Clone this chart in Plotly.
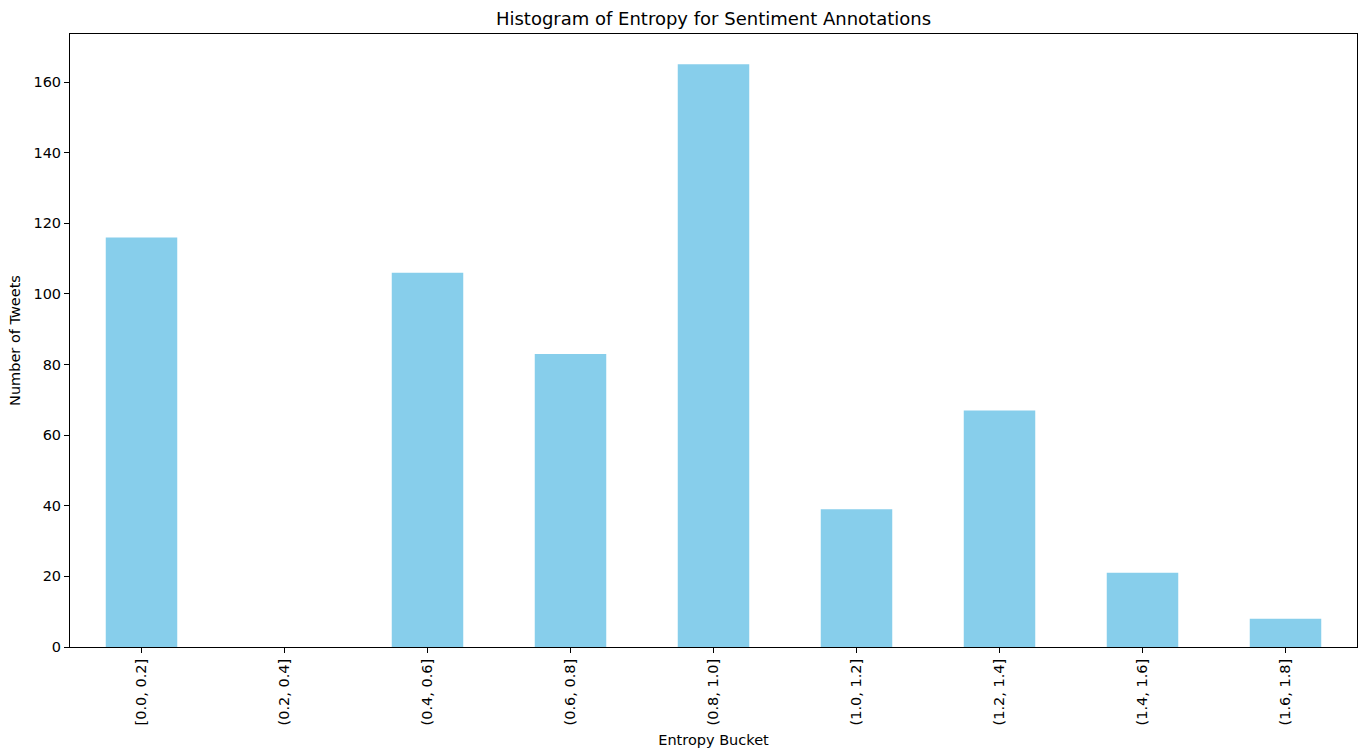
import plotly.graph_objects as go

categories = ["[0.0, 0.2]", "(0.2, 0.4]", "(0.4, 0.6]", "(0.6, 0.8]", "(0.8, 1.0]",
              "(1.0, 1.2]", "(1.2, 1.4]", "(1.4, 1.6]", "(1.6, 1.8]"]
counts = [116, 0, 106, 83, 165, 39, 67, 21, 8]
y_ticks = [0, 20, 40, 60, 80, 100, 120, 140, 160]

fig = go.Figure(go.Bar(x=categories, y=counts, marker_color="#87CEEB",
                       marker_line_width=0, width=0.5))

font = "DejaVu Sans, sans-serif"
fig.update_layout(
    width=1362, height=749,
    margin=dict(l=70, r=5, t=34, b=102),
    plot_bgcolor="white", paper_bgcolor="white",
    font=dict(family=font, size=14.5, color="black"),
    title=dict(text="Histogram of Entropy for Sentiment Annotations", x=0.5, xanchor="center",
               xref="paper",
               y=1 - 19/749, yanchor="middle", font=dict(size=18, family=font)),
    showlegend=False,
)
fig.update_xaxes(
    type="category", range=[-0.5, 8.5], tickangle=-90, automargin=False,
    showline=True, linecolor="black", linewidth=1, mirror=True,
    ticks="outside", ticklen=5, tickcolor="black", showgrid=False,
    title=dict(text="Entropy Bucket", font=dict(size=14.5), standoff=10),
    tickfont=dict(size=14.5),
)
fig.update_yaxes(
    range=[0, 173.6], tickvals=y_ticks, automargin=False,
    showline=True, linecolor="black", linewidth=1, mirror=True,
    ticks="outside", ticklen=5, tickcolor="black", showgrid=False, zeroline=False,
    title=dict(text="Number of Tweets", font=dict(size=14.5), standoff=9),
    tickfont=dict(size=14.5),
)
fig.write_html("out.html", config={"displayModeBar": False},
               post_script="document.body.style.margin='0';document.body.style.overflow='hidden';")
